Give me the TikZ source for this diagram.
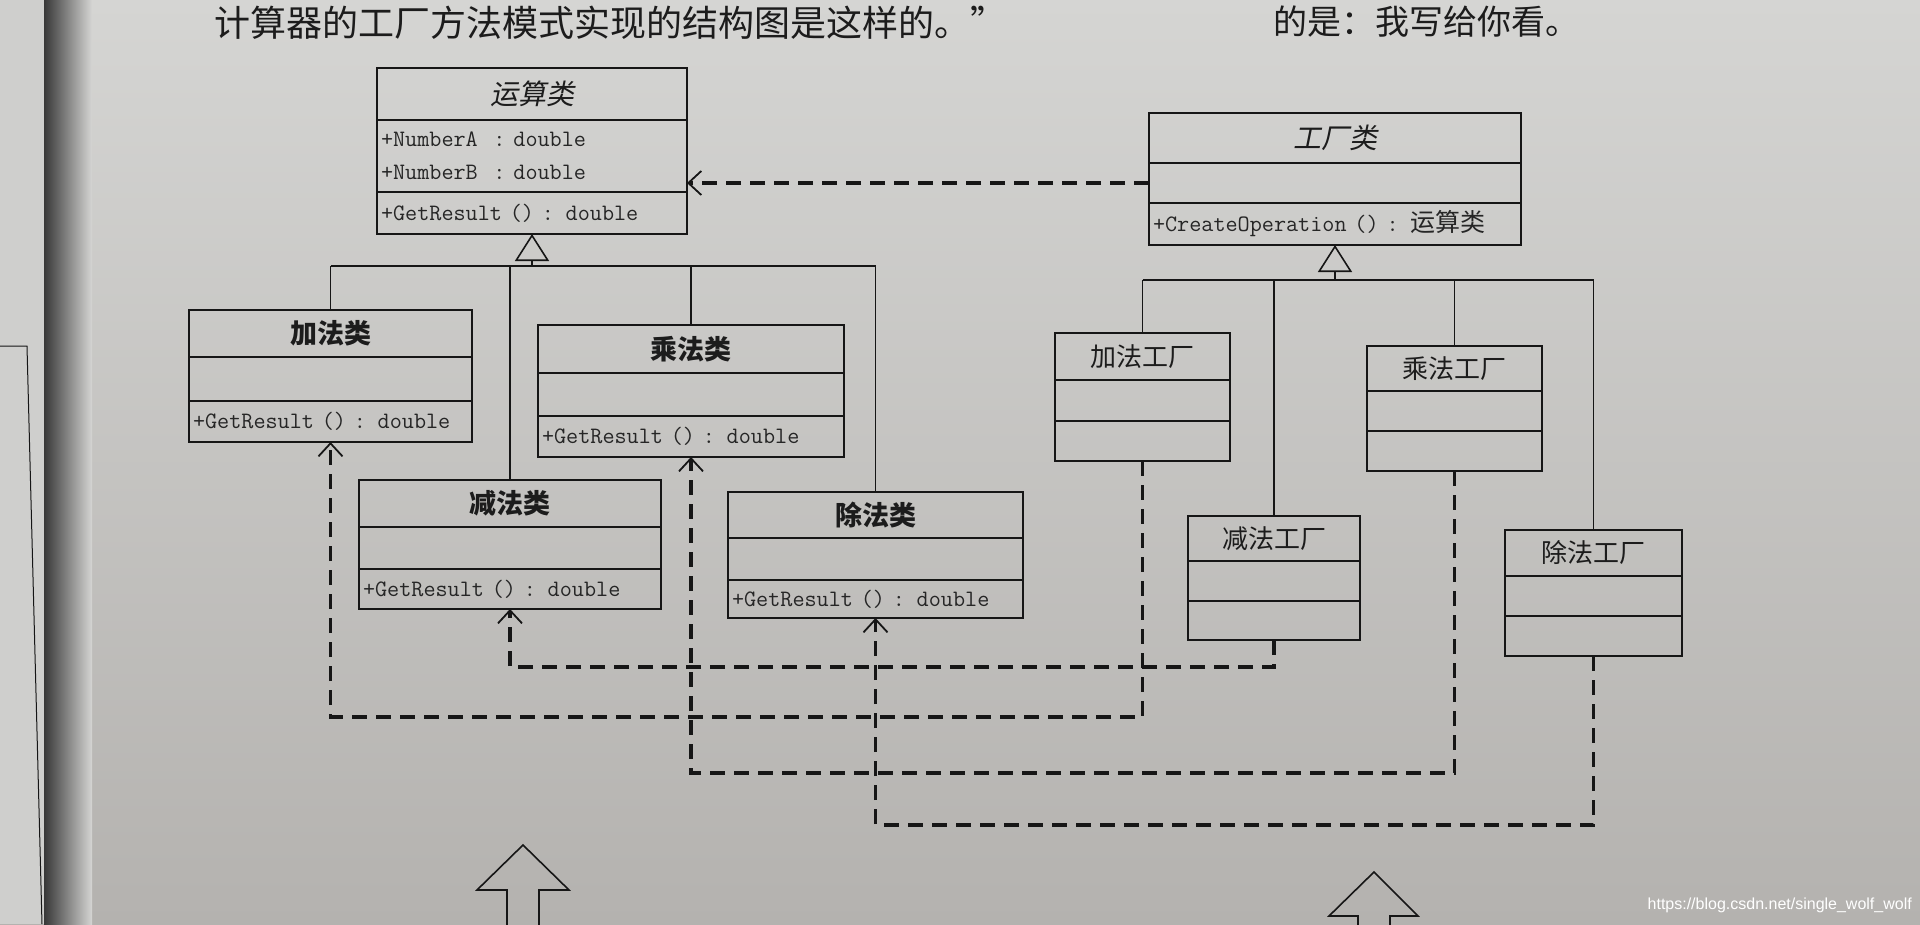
\documentclass[tikz,border=0pt]{standalone}
\usepackage{fontspec}
\usepackage{tikz}
\usetikzlibrary{arrows.meta, positioning, calc}
\newfontfamily\cjk{Noto Sans CJK SC}
\newfontfamily\cjkslant[FakeSlant=0.2]{Noto Sans CJK SC}
\newfontfamily\markfont{Liberation Sans}
\definecolor{pageTop}{HTML}{D5D5D3}
\definecolor{pageBottom}{HTML}{B4B2AF}
\definecolor{leftPage}{HTML}{CFCFCD}
\definecolor{umlInk}{HTML}{161616}
\definecolor{titleInk}{HTML}{1C1C1C}
\definecolor{monoInk}{HTML}{262626}

\begin{document}
\begin{tikzpicture}[
    x=1pt, y=-1pt,
    cname/.style={
        draw=umlInk,
        line width=2.2pt,
        inner sep=0pt,
        outer sep=0pt,
        text=titleInk,
        font=\cjk\bfseries\fontsize{27}{30}\selectfont
    },
    aname/.style={
        cname,
        font=\cjkslant\fontsize{28}{30}\selectfont
    },
    fname/.style={
        cname,
        font=\cjk\fontsize{26}{30}\selectfont
    },
    cattr/.style={
        draw=umlInk,
        line width=2.2pt,
        inner sep=0pt,
        outer sep=0pt
    },
    cops/.style={
        draw=umlInk,
        line width=2.2pt,
        inner xsep=4pt,
        inner ysep=0pt,
        outer sep=0pt,
        align=left,
        text=monoInk,
        font=\ttfamily\fontsize{23.5}{33}\selectfont
    },
    tree/.style={
        draw=umlInk,
        line width=1.3pt
    },
    gen/.style={
        tree,
        -{Triangle[open, length=27pt, width=34pt, line width=1.6pt]}
    },
    dep/.style={
        draw=umlInk,
        line width=3.6pt,
        dash pattern=on 15pt off 9pt,
        -{Straight Barb[length=13pt, width=24pt, line width=1.8pt]}
    },
    hollow/.style={
        draw=umlInk,
        line width=1.6pt,
        line join=miter
    }
]
\useasboundingbox (0,0) rectangle (1920,924);

% Photographed page
\shade[top color=pageTop, bottom color=pageBottom] (0,0) rectangle (1920,924);
\fill[leftPage] (0,0) rectangle (44,924);
\draw[umlInk, line width=1pt] (0,346) -- (27,346) -- (42,924);
\shade[left color=black!78, right color=pageTop] (44,0) rectangle (92,924);

% Running text at the top edge
\node[anchor=base west, inner sep=0pt, text=titleInk, font=\cjk\fontsize{36}{40}\selectfont] (caption) at (214,36) {计算器的工厂方法模式实现的结构图是这样的。”};
\node[anchor=base east, inner sep=0pt, text=titleInk, font=\cjk\fontsize{34}{40}\selectfont] (captionEnd) at (1580,34) {的是：我写给你看。};

% Abstract operation class
\node[aname, minimum width=310pt, minimum height=52pt, anchor=north west] (opName) at (377,68) {运算类};
\node[cops, below=0pt of opName, text width=302pt, minimum height=72pt] (opAttr) {+NumberA~~: double\\+NumberB~~: double};
\node[cops, below=0pt of opAttr, text width=302pt, minimum height=42pt] (opOps) {+GetResult () : double};

% Abstract factory class
\node[aname, minimum width=372pt, minimum height=50pt, anchor=north west] (ffName) at (1149,113) {工厂类};
\node[cattr, below=0pt of ffName, minimum width=372pt, minimum height=40pt] (ffAttr) {};
\node[cops, below=0pt of ffAttr, text width=364pt, minimum height=42pt] (ffOps) {+CreateOperation () : {\cjk\fontsize{25}{30}\selectfont 运算类}};

% Concrete operations
\node[cname, minimum width=283pt, minimum height=47pt, anchor=north west] (addName) at (189,310) {加法类};
\node[cattr, below=0pt of addName, minimum width=283pt, minimum height=44pt] (addAttr) {};
\node[cops, below=0pt of addAttr, text width=275pt, minimum height=41pt] (addOps) {+GetResult () : double};

\node[cname, minimum width=302pt, minimum height=47pt, anchor=north west] (subName) at (359,480) {减法类};
\node[cattr, below=0pt of subName, minimum width=302pt, minimum height=42pt] (subAttr) {};
\node[cops, below=0pt of subAttr, text width=294pt, minimum height=40pt] (subOps) {+GetResult () : double};

\node[cname, minimum width=306pt, minimum height=48pt, anchor=north west] (mulName) at (538,325) {乘法类};
\node[cattr, below=0pt of mulName, minimum width=306pt, minimum height=43pt] (mulAttr) {};
\node[cops, below=0pt of mulAttr, text width=298pt, minimum height=41pt] (mulOps) {+GetResult () : double};

\node[cname, minimum width=295pt, minimum height=46pt, anchor=north west] (divName) at (728,492) {除法类};
\node[cattr, below=0pt of divName, minimum width=295pt, minimum height=42pt] (divAttr) {};
\node[cops, below=0pt of divAttr, text width=287pt, minimum height=38pt] (divOps) {+GetResult () : double};

% Concrete factories
\node[fname, minimum width=175pt, minimum height=47pt, anchor=north west] (addFName) at (1055,333) {加法工厂};
\node[cattr, below=0pt of addFName, minimum width=175pt, minimum height=41pt] (addFAttr) {};
\node[cattr, below=0pt of addFAttr, minimum width=175pt, minimum height=40pt] (addFOps) {};

\node[fname, minimum width=172pt, minimum height=45pt, anchor=north west] (subFName) at (1188,516) {减法工厂};
\node[cattr, below=0pt of subFName, minimum width=172pt, minimum height=40pt] (subFAttr) {};
\node[cattr, below=0pt of subFAttr, minimum width=172pt, minimum height=39pt] (subFOps) {};

\node[fname, minimum width=175pt, minimum height=45pt, anchor=north west] (mulFName) at (1367,346) {乘法工厂};
\node[cattr, below=0pt of mulFName, minimum width=175pt, minimum height=40pt] (mulFAttr) {};
\node[cattr, below=0pt of mulFAttr, minimum width=175pt, minimum height=40pt] (mulFOps) {};

\node[fname, minimum width=177pt, minimum height=46pt, anchor=north west] (divFName) at (1505,530) {除法工厂};
\node[cattr, below=0pt of divFName, minimum width=177pt, minimum height=40pt] (divFAttr) {};
\node[cattr, below=0pt of divFAttr, minimum width=177pt, minimum height=40pt] (divFOps) {};

% Generalization of the operations
\coordinate (opBus) at ($(opOps.south)+(0,32)$);
\draw[tree] (addName.north |- opBus) -- (divName.north |- opBus);
\draw[tree] (addName.north |- opBus) -- (addName.north);
\draw[tree] (subName.north |- opBus) -- (subName.north);
\draw[tree] (mulName.north |- opBus) -- (mulName.north);
\draw[tree] (divName.north |- opBus) -- (divName.north);
\draw[gen] (opBus) -- (opOps.south);

% Generalization of the factories
\coordinate (ffBus) at ($(ffOps.south)+(0,35)$);
\draw[tree] (addFName.north |- ffBus) -- (divFName.north |- ffBus);
\draw[tree] (addFName.north |- ffBus) -- (addFName.north);
\draw[tree] (subFName.north |- ffBus) -- (subFName.north);
\draw[tree] (mulFName.north |- ffBus) -- (mulFName.north);
\draw[tree] (divFName.north |- ffBus) -- (divFName.north);
\draw[gen] (ffBus) -- (ffOps.south);

% Factory depends on operation
\draw[dep] (ffAttr.west) -- (ffAttr.west -| opAttr.east);

% Each factory creates its operation
\coordinate (subLane) at (0,667);
\coordinate (addLane) at (0,717);
\coordinate (mulLane) at (0,773);
\coordinate (divLane) at (0,825);
\draw[dep] (subFOps.south) -- (subFOps.south |- subLane) -| (subOps.south);
\draw[dep] (addFOps.south) -- (addFOps.south |- addLane) -| (addOps.south);
\draw[dep] (mulFOps.south) -- (mulFOps.south |- mulLane) -| (mulOps.south);
\draw[dep] (divFOps.south) -- (divFOps.south |- divLane) -| (divOps.south);

% Hollow arrows of the next figure, cut at the bottom edge
\draw[hollow] (507,930) -- (507,890) -- (477,890) -- (523,845) -- (569,890) -- (539,890) -- (539,930);
\draw[hollow] (1358,930) -- (1358,916) -- (1329,916) -- (1374,872) -- (1418,916) -- (1390,916) -- (1390,930);

% Watermark
\node[anchor=east, inner sep=0pt, text=white, font=\markfont\fontsize{16}{18}\selectfont] (mark) at (1912,905) {https://blog.csdn.net/single\_wolf\_wolf};
\end{tikzpicture}
\end{document}
